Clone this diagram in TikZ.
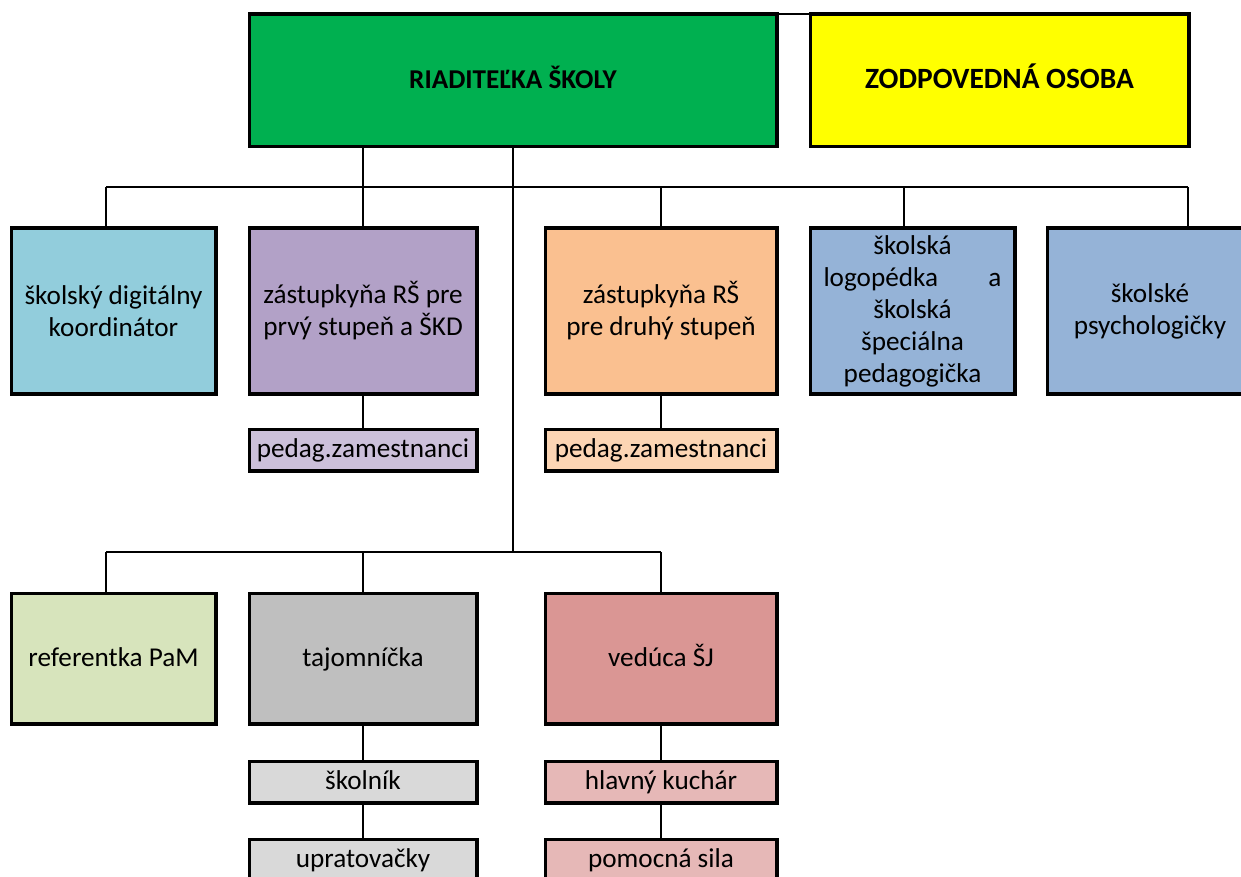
\documentclass[tikz,border=0pt]{standalone}
\usepackage{fontspec}
\setmainfont{Carlito}
\usetikzlibrary{positioning}

\definecolor{riadgreen}{HTML}{00B050}
\definecolor{zodpyellow}{HTML}{FFFF00}
\definecolor{digcyan}{HTML}{92CDDC}
\definecolor{zastpurple}{HTML}{B2A1C7}
\definecolor{zastorange}{HTML}{FAC090}
\definecolor{poradblue}{HTML}{95B3D7}
\definecolor{pedpurple}{HTML}{CCC0DA}
\definecolor{pedorange}{HTML}{FCD5B4}
\definecolor{refgreen}{HTML}{D7E4BC}
\definecolor{tajgray}{HTML}{BFBFBF}
\definecolor{vedred}{HTML}{DA9694}
\definecolor{tehgray}{HTML}{D9D9D9}
\definecolor{kuchpink}{HTML}{E6B8B7}

\tikzset{
  box/.style={draw, line width=1.25pt, align=center, inner sep=1pt,
    font=\fontsize{13.6}{16}\selectfont},
  oneline/.style={text height=0.9em, text depth=0.12em},
  bigbox/.style={box, minimum height=82pt},
  smallbox/.style={box, oneline, minimum height=20pt, minimum width=113pt},
  conn/.style={line width=1pt},
}

\begin{document}
\begin{tikzpicture}[x=0.5pt,y=-0.5pt]
    \clip (0,0) rectangle (1241,877);
    \fill[white] (0,0) rectangle (1241,877);

    % vedenie
    \node[box, oneline, fill=riadgreen, minimum width=263pt, minimum height=65.5pt,
      font=\fontsize{13.6}{16}\selectfont\bfseries] (riad) at (513,80.5) {RIADITEĽKA ŠKOLY};
    \node[box, oneline, fill=zodpyellow, minimum width=188.5pt, minimum height=65.5pt,
      font=\fontsize{14.7}{18}\selectfont\bfseries] (zodp) at (999.5,80.5) {ZODPOVEDNÁ OSOBA};

    % prvy rad
    \node[bigbox, fill=digcyan, minimum width=101.5pt] (dig) at (113.5,311)
      {školský digitálny\\koordinátor};
    \node[bigbox, fill=zastpurple, minimum width=113pt] (zast1) at (363,311)
      {zástupkyňa RŠ pre\\prvý stupeň a ŠKD};
    \node[bigbox, fill=zastorange, minimum width=115pt] (zast2) at (661,311)
      {zástupkyňa RŠ\\pre druhý stupeň};
    \node[bigbox, fill=poradblue, minimum width=101.5pt] (logo) at (912.5,311)
      {školská\\\makebox[89pt]{logopédka\hfill a}\\školská\\špeciálna\\pedagogička};
    \node[bigbox, fill=poradblue, minimum width=102pt] (psych) at (1150,311)
      {školské\\psychologičky};

    \node[smallbox, fill=pedpurple] (ped1) at (363,450) {pedag.zamestnanci};
    \node[smallbox, fill=pedorange, minimum width=115pt] (ped2) at (661,450) {pedag.zamestnanci};

    % druhy rad
    \node[box, oneline, fill=refgreen, minimum width=101.5pt, minimum height=64.5pt] (ref) at (113.5,658.5)
      {referentka PaM};
    \node[box, oneline, fill=tajgray, minimum width=113pt, minimum height=64.5pt] (taj) at (363,658.5)
      {tajomníčka};
    \node[box, oneline, fill=vedred, minimum width=115pt, minimum height=64.5pt] (ved) at (661,658.5)
      {vedúca ŠJ};

    \node[smallbox, fill=tehgray] (skol) at (363,782) {školník};
    \node[smallbox, fill=tehgray] (upr) at (363,860) {upratovačky};
    \node[smallbox, fill=kuchpink, minimum width=115pt] (kuch) at (661,782) {hlavný kuchár};
    \node[smallbox, fill=kuchpink, minimum width=115pt] (pom) at (661,860) {pomocná sila};

    % spojnice
    \coordinate (bar1L) at (106,187);
    \coordinate (bar1M) at (904,187);
    \coordinate (bar1R) at (1188,187);
    \coordinate (bar2L) at (106,552);

    \draw[conn] (riad.north east) -- (zodp.north west);
    \draw[conn] (bar1L) -- (bar1R);
    \draw[conn] (bar1L) -- (bar1L |- dig.north);
    \draw[conn] (riad.south -| zast1) -- (zast1.north);
    \draw[conn] (bar1L -| zast2) -- (zast2.north);
    \draw[conn] (bar1M) -- (bar1M |- logo.north);
    \draw[conn] (bar1R) -- (bar1R |- psych.north);
    \draw[conn] (riad.south) -- (riad.south |- bar2L);
    \draw[conn] (bar2L) -- (bar2L -| ved);
    \draw[conn] (bar2L) -- (bar2L |- ref.north);
    \draw[conn] (bar2L -| taj) -- (taj.north);
    \draw[conn] (bar2L -| ved) -- (ved.north);
    \draw[conn] (zast1) -- (ped1);
    \draw[conn] (zast2) -- (ped2);
    \draw[conn] (taj) -- (skol);
    \draw[conn] (skol) -- (upr);
    \draw[conn] (ved) -- (kuch);
    \draw[conn] (kuch) -- (pom);

    % znova ramy, aby spojnice nesli cez vyplne
    \foreach \n in {riad,zodp,dig,zast1,zast2,logo,psych,ped1,ped2,ref,taj,ved,skol,upr,kuch,pom}
      \draw[line width=1.25pt] (\n.north west) rectangle (\n.south east);
\end{tikzpicture}
\end{document}
